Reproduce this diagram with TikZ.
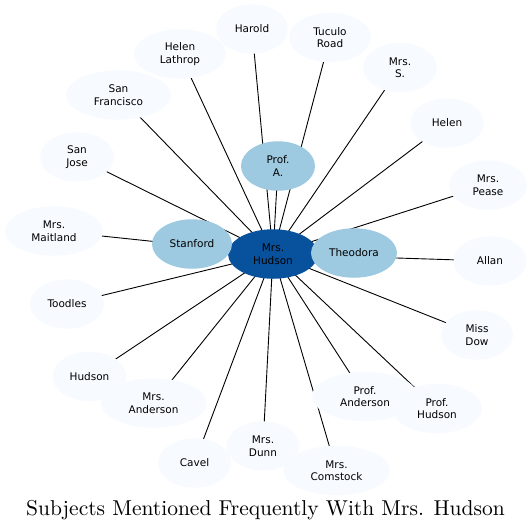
\documentclass[tikz,border=0pt]{standalone}
\usepackage{fontspec}
\newfontfamily\nodefont{DejaVu Sans}
\newfontfamily\titlefont[Extension=.otf]{lmroman10-regular}
\usetikzlibrary{shapes.geometric}
\pgfdeclarelayer{bg}
\pgfsetlayers{bg,main}
\definecolor{palefill}{HTML}{F7FBFF}
\definecolor{midfill}{HTML}{9ECAE1}
\definecolor{hubfill}{HTML}{08519C}
\tikzset{
  bubble/.style={ellipse, inner sep=0pt, minimum height=49.5pt, align=center,
    font=\nodefont\fontsize{10.5}{12.5}\selectfont, text=black},
  outer/.style={bubble, fill=palefill},
  mid/.style={bubble, fill=midfill},
  hub/.style={bubble, fill=hubfill},
  link/.style={draw=black, line width=0.9pt},
}
\begin{document}
\begin{tikzpicture}[x=1pt,y=-1pt]
\useasboundingbox (0,0) rectangle (532,531);
% hub
\node[hub, minimum width=90pt] (hub) at (273,254) {Mrs.\\Hudson};
% middle ring
\node[mid, minimum width=74pt] (profa) at (278,166) {Prof.\\A.};
\node[mid, minimum width=80pt] (stanford) at (192,244) {Stanford};
\node[mid, minimum width=86pt] (theodora) at (354,253) {Theodora};
% outer ring
\node[outer, minimum width=72pt] (harold) at (252,29) {Harold};
\node[outer, minimum width=82pt] (tuculo) at (330,37.5) {Tuculo\\Road};
\node[outer, minimum width=92pt] (lathrop) at (180,54) {Helen\\Lathrop};
\node[outer, minimum width=105pt] (sanfran) at (118.5,95) {San\\Francisco};
\node[outer, minimum width=74pt] (mrss) at (400,67.5) {Mrs.\\S.};
\node[outer, minimum width=74pt] (helen) at (447,123) {Helen};
\node[outer, minimum width=78pt] (pease) at (488,185) {Mrs.\\Pease};
\node[outer, minimum width=73pt] (allan) at (490,261) {Allan};
\node[outer, minimum width=72pt] (missdow) at (477,335) {Miss\\Dow};
\node[outer, minimum width=74pt] (sanjose) at (77,157) {San\\Jose};
\node[outer, minimum width=98pt] (maitland) at (54,231) {Mrs.\\Maitland};
\node[outer, minimum width=74pt] (toodles) at (67,304) {Toodles};
\node[outer, minimum width=74pt] (hudson) at (89.5,376.5) {Hudson};
\node[outer, minimum width=106pt] (mrsanderson) at (153.5,403) {Mrs.\\Anderson};
\node[outer, minimum width=73pt] (cavel) at (194.5,463) {Cavel};
\node[outer, minimum width=73pt] (dunn) at (263,446) {Mrs.\\Dunn};
\node[outer, minimum width=107pt] (comstock) at (336.5,470.5) {Mrs.\\Comstock};
\node[outer, minimum width=106pt] (profanderson) at (365,396.5) {Prof.\\Anderson};
\node[outer, minimum width=90pt] (profhudson) at (437,408.5) {Prof.\\Hudson};
% connectors
\begin{pgfonlayer}{bg}
\foreach \n in {profa,stanford,theodora,harold,tuculo,lathrop,sanfran,mrss,helen,pease,allan,missdow,sanjose,maitland,toodles,hudson,mrsanderson,cavel,dunn,comstock,profanderson,profhudson}
  \draw[link] (hub.center) -- (\n.center);
\end{pgfonlayer}
% title
\node[font=\titlefont\fontsize{21.5}{25}\selectfont, inner sep=0pt, anchor=base] (title) at (265.5,515) {Subjects Mentioned Frequently With Mrs. Hudson};
\end{tikzpicture}
\end{document}
